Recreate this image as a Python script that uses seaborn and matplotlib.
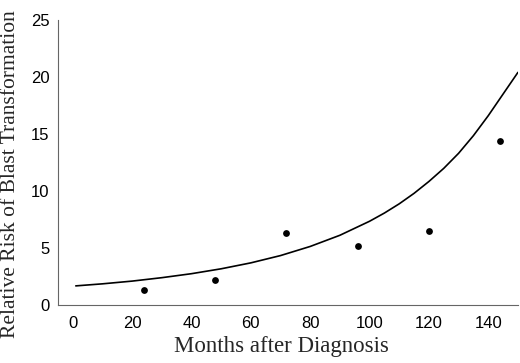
import matplotlib
matplotlib.use("Agg")
import matplotlib.pyplot as plt
import seaborn as sns
import pandas as pd

# Observed relative risk (dots)
obs_months = [24, 48, 72, 96, 120, 144]
obs_risk = [1.3, 2.2, 6.3, 5.2, 6.5, 14.4]

# Fitted curve, values
fit_months = [1, 10, 20, 30, 40, 50, 60, 70, 80, 90, 100, 105, 110, 115,
              120, 125, 130, 135, 140, 145, 150]
fit_risk = [1.67, 1.85, 2.09, 2.39, 2.74, 3.17, 3.69, 4.33, 5.13, 6.11,
            7.34, 8.06, 8.87, 9.79, 10.83, 11.98, 13.3, 14.85, 16.6, 18.5,
            20.4]

x_ticks = [0, 20, 40, 60, 80, 100, 120, 140]
y_ticks = [0, 5, 10, 15, 20, 25]

sns.set_style("white")
plt.rcParams['font.family'] = ['Liberation Sans', 'DejaVu Sans']

fig = plt.figure(figsize=(5.2, 3.63), dpi=100)
ax = fig.add_axes([0.1115, 0.16, 0.8845, 0.785])

obs = pd.DataFrame({"month": obs_months, "risk": obs_risk})
fit = pd.DataFrame({"month": fit_months, "risk": fit_risk})

sns.lineplot(data=fit, x="month", y="risk", ax=ax, color="black",
             linewidth=1.2, sort=True, estimator=None)
sns.scatterplot(data=obs, x="month", y="risk", ax=ax, color="black",
                s=24, edgecolor="black", linewidth=0, zorder=3)

ax.set_xlim(-5, 150)
ax.set_ylim(0, 25)
ax.set_xticks(x_ticks)
ax.set_yticks(y_ticks)
ax.tick_params(direction="in", length=2, width=0.6, colors="#555555",
               labelcolor="black", labelsize=12)
ax.tick_params(axis="x", pad=8)
ax.tick_params(axis="y", pad=6)

for side in ["top", "right"]:
    ax.spines[side].set_visible(False)
for side in ["left", "bottom"]:
    ax.spines[side].set_color("#666666")
    ax.spines[side].set_linewidth(0.8)

ax.set_xlabel("Months after Diagnosis", family=["Liberation Serif"],
              fontsize=16.5)
ax.set_ylabel("Relative Risk of Blast Transformation",
              family=["Liberation Serif"], fontsize=15.5)
ax.xaxis.set_label_coords(0.486, -0.11)
ax.yaxis.set_label_coords(-0.082, 0.458)

fig.savefig("out.png", dpi=100)
